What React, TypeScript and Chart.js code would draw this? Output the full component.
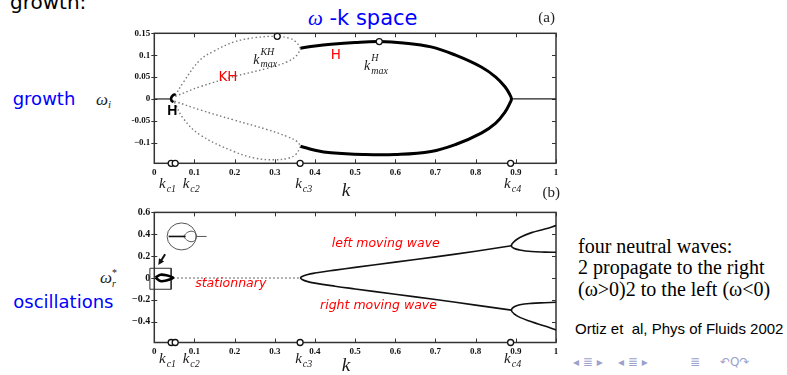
import React, { useEffect, useRef } from "react";
import { Chart, registerables } from "chart.js";

Chart.register(...registerables);

type Pt = [number, number];

const SERIF = "'Liberation Serif', 'DejaVu Serif', serif";
const SANS = "'DejaVu Sans', 'Liberation Sans', sans-serif";

// ---------- axes ----------
const xTickValues = [0, 0.1, 0.2, 0.3, 0.4, 0.5, 0.6, 0.7, 0.8, 0.9, 1];
const xTickLabels = ["0", "0.1", "0.2", "0.3", "0.4", "0.5", "0.6", "0.7", "0.8", "0.9", "1"];
const yTopTickValues = [-0.1, -0.05, 0, 0.05, 0.1, 0.15];
const yTopTickLabels = ["\u22120.1", "-0.05", "0", "0.05", "0.1", "0.15"];
const yBotTickValues = [-0.4, -0.2, 0, 0.2, 0.4, 0.6];
const yBotTickLabels = ["\u22120.4", "\u22120.2", "0", "0.2", "0.4", "0.6"];
const topYRange: Pt = [-0.147, 0.15];
const botYRange: Pt = [-0.59, 0.6];

// critical wavenumbers (markers on the k axis) and their labels
const criticalK = [0.042, 0.052, 0.363, 0.887];
const criticalNames = ["c1", "c2", "c3", "c4"];
const criticalLabelK = [0.033, 0.092, 0.372, 0.892];
const kTitleK = 0.477;

// ---------- (a) growth rate ----------
const topZeroLeft: Pt[] = [[0, 0], [0.042, 0]];
const topBracketH: Pt[] = [[0.053, 0.011], [0.046, 0.008], [0.042, 0.002], [0.043, -0.004], [0.048, -0.007]];
const khUpperOuter: Pt[] = [[0.052, 0.008], [0.073, 0.039], [0.114, 0.089], [0.15, 0.11], [0.198, 0.13], [0.25, 0.14], [0.306, 0.143], [0.335, 0.139], [0.352, 0.131], [0.364, 0.116]];
const khUpperInner: Pt[] = [[0.052, 0.006], [0.114, 0.028], [0.198, 0.051], [0.281, 0.07], [0.331, 0.085], [0.355, 0.1], [0.364, 0.115]];
const khLowerOuter: Pt[] = [[0.05, -0.007], [0.0725, -0.045], [0.114, -0.082], [0.198, -0.12], [0.25, -0.135], [0.3, -0.139], [0.335, -0.135], [0.352, -0.127], [0.364, -0.109]];
const khLowerInner: Pt[] = [[0.05, -0.005], [0.114, -0.025], [0.198, -0.048], [0.281, -0.07], [0.331, -0.086], [0.355, -0.097], [0.364, -0.107]];
const hUpper: Pt[] = [[0.364, 0.116], [0.4, 0.121], [0.44, 0.125], [0.5, 0.129], [0.56, 0.131], [0.62, 0.128], [0.689, 0.119], [0.75, 0.1], [0.814, 0.073], [0.85, 0.05], [0.873, 0.028], [0.885, 0.01], [0.889, 0]];
const hLower: Pt[] = [[0.889, 0], [0.885, -0.01], [0.873, -0.03], [0.85, -0.055], [0.814, -0.078], [0.75, -0.104], [0.689, -0.12], [0.6, -0.127], [0.52, -0.127], [0.44, -0.123], [0.4, -0.117], [0.364, -0.108]];
const topZeroRight: Pt[] = [[0.889, 0], [1, 0]];
const kMaxPoints: Pt[] = [[0.306, 0.143], [0.56, 0.131]];

// ---------- (b) oscillation frequency ----------
const stationaryBlob: Pt[] = [[0.003, 0.004], [0.015, 0.03], [0.03, 0.025], [0.047, 0.002], [0.03, -0.022], [0.015, -0.028], [0.003, 0.004]];
const stationaryDotted: Pt[] = [[0.047, 0], [0.364, 0]];
const travelUpper: Pt[] = [[0.364, 0], [0.368, 0.013], [0.38, 0.03], [0.4, 0.045], [0.45, 0.072], [0.5, 0.097], [0.6, 0.145], [0.7, 0.193], [0.8, 0.245], [0.889, 0.295]];
const travelLower: Pt[] = [[0.364, 0], [0.368, -0.013], [0.38, -0.031], [0.4, -0.047], [0.45, -0.075], [0.5, -0.1], [0.6, -0.149], [0.7, -0.197], [0.8, -0.248], [0.889, -0.294]];
const forkUpper: Pt[] = [[1, 0.479], [0.972, 0.448], [0.939, 0.415], [0.91, 0.37], [0.895, 0.33], [0.889, 0.296], [0.895, 0.272], [0.91, 0.256], [0.939, 0.242], [0.972, 0.237], [1, 0.235]];
const forkLower: Pt[] = [[1, -0.222], [0.972, -0.226], [0.939, -0.232], [0.91, -0.245], [0.895, -0.265], [0.889, -0.294], [0.895, -0.325], [0.91, -0.36], [0.939, -0.4], [0.972, -0.44], [1, -0.476]];
const insetBox: Pt[] = [[-0.011, 0.089], [0.042, 0.089], [0.042, -0.103], [-0.011, -0.103], [-0.011, 0.089]];
const insetCenter: Pt = [0.068, 0.38];
const insetArrow: Pt[] = [[0.027, 0.217], [0.01, 0.119]];

// ---------- helpers ----------
const pts = (a: Pt[]) => a.map(([x, y]) => ({ x, y }));

function line(data: Pt[], color: string, width: number, dash: number[] = [], tension = 0.4) {
  return {
    data: pts(data),
    showLine: true,
    borderColor: color,
    borderWidth: width,
    borderDash: dash,
    pointRadius: 0,
    tension,
    fill: false,
    clip: false as any,
  };
}

function markers(data: Pt[]) {
  return {
    data: pts(data),
    showLine: false,
    pointRadius: 3,
    pointStyle: "circle",
    pointBackgroundColor: "#fff",
    pointBorderColor: "#111",
    pointBorderWidth: 1.3,
    clip: false as any,
  };
}

function drawMath(ctx: CanvasRenderingContext2D, cx: number, by: number, base: string, sup: string, sub: string, size: number) {
  const bf = `italic ${size}px ${SERIF}`;
  const sz = Math.round(size * 0.68);
  const sf = `italic ${sz}px ${SERIF}`;
  ctx.font = bf;
  const bw = ctx.measureText(base).width;
  ctx.font = sf;
  const w2 = Math.max(sup ? ctx.measureText(sup).width : 0, sub ? ctx.measureText(sub).width : 0);
  const x0 = cx - (bw + 1 + w2) / 2;
  ctx.textAlign = "left";
  ctx.textBaseline = "alphabetic";
  ctx.fillStyle = "#1a1a1a";
  ctx.font = bf;
  ctx.fillText(base, x0, by);
  ctx.font = sf;
  if (sup) ctx.fillText(sup, x0 + bw + 1, by - size * 0.62);
  if (sub) ctx.fillText(sub, x0 + bw + 1, by + size * 0.25);
}

type TextItem = { k: number; w: number; text: string; font: string; color: string; align: CanvasTextAlign };
type MathItem = { k: number; w: number; base: string; sup: string; sub: string; size: number };
type DecorCfg = {
  yTicks: number[];
  tag: string;
  tagDx: number;
  tagDy: number;
  kcDy: number;
  kTitleDy: number;
  texts: TextItem[];
  math: MathItem[];
  inset: boolean;
};

function makeDecor(cfg: DecorCfg) {
  return {
    id: "decor",
    beforeDatasetsDraw(chart: any) {
      const { ctx, chartArea: a } = chart;
      const xs = chart.scales.x;
      const ys = chart.scales.y;
      ctx.save();
      ctx.strokeStyle = "#333";
      ctx.lineWidth = 1.5;
      ctx.strokeRect(a.left, a.top, a.right - a.left, a.bottom - a.top);
      ctx.lineWidth = 1;
      ctx.beginPath();
      for (const v of xTickValues) {
        const px = Math.round(xs.getPixelForValue(v)) + 0.5;
        ctx.moveTo(px, a.bottom);
        ctx.lineTo(px, a.bottom - 4);
        ctx.moveTo(px, a.top);
        ctx.lineTo(px, a.top + 4);
      }
      for (const v of cfg.yTicks) {
        const py = Math.round(ys.getPixelForValue(v)) + 0.5;
        ctx.moveTo(a.left - 3, py);
        ctx.lineTo(a.left + 3, py);
        ctx.moveTo(a.right, py);
        ctx.lineTo(a.right - 4, py);
      }
      ctx.stroke();
      ctx.restore();
    },
    afterDatasetsDraw(chart: any) {
      const { ctx, chartArea: a } = chart;
      const xs = chart.scales.x;
      const ys = chart.scales.y;
      ctx.save();
      // panel tag
      ctx.font = `15px ${SERIF}`;
      ctx.fillStyle = "#222";
      ctx.textAlign = "right";
      ctx.textBaseline = "alphabetic";
      ctx.fillText(cfg.tag, a.right + cfg.tagDx, a.top + cfg.tagDy);
      // axis title k
      ctx.font = `italic 19px ${SERIF}`;
      ctx.textAlign = "center";
      ctx.fillStyle = "#1a1a1a";
      ctx.fillText("k", xs.getPixelForValue(kTitleK), a.bottom + cfg.kTitleDy);
      // critical k labels
      criticalLabelK.forEach((k, i) => drawMath(ctx, xs.getPixelForValue(k), a.bottom + cfg.kcDy, "k", "", criticalNames[i], 15));
      // math annotations
      cfg.math.forEach((m) => drawMath(ctx, xs.getPixelForValue(m.k), ys.getPixelForValue(m.w), m.base, m.sup, m.sub, m.size));
      // text annotations
      cfg.texts.forEach((t) => {
        ctx.font = t.font;
        ctx.fillStyle = t.color;
        ctx.textAlign = t.align;
        ctx.textBaseline = "middle";
        ctx.fillText(t.text, xs.getPixelForValue(t.k), ys.getPixelForValue(t.w));
      });
      if (cfg.inset) {
        const cx = xs.getPixelForValue(insetCenter[0]);
        const cy = ys.getPixelForValue(insetCenter[1]);
        ctx.strokeStyle = "#555";
        ctx.lineWidth = 1;
        ctx.beginPath();
        ctx.ellipse(cx, cy, 14.5, 13.5, 0, 0, Math.PI * 2);
        ctx.stroke();
        ctx.beginPath();
        ctx.moveTo(cx + 14, cy);
        ctx.lineTo(cx + 25, cy);
        ctx.stroke();
        ctx.beginPath();
        ctx.moveTo(cx + 2, cy);
        ctx.bezierCurveTo(cx + 7, cy - 8, cx + 15, cy - 6, cx + 15, cy);
        ctx.bezierCurveTo(cx + 15, cy + 6, cx + 7, cy + 8, cx + 2, cy);
        ctx.stroke();
        ctx.strokeStyle = "#111";
        ctx.lineWidth = 1.6;
        ctx.beginPath();
        ctx.moveTo(cx - 13, cy);
        ctx.lineTo(cx + 4, cy);
        ctx.stroke();
        // arrow
        const ax = xs.getPixelForValue(insetArrow[0][0]);
        const ay = ys.getPixelForValue(insetArrow[0][1]);
        const bx = xs.getPixelForValue(insetArrow[1][0]);
        const by = ys.getPixelForValue(insetArrow[1][1]);
        const ang = Math.atan2(by - ay, bx - ax);
        ctx.lineWidth = 2;
        ctx.beginPath();
        ctx.moveTo(ax, ay);
        ctx.lineTo(bx - 4 * Math.cos(ang), by - 4 * Math.sin(ang));
        ctx.stroke();
        ctx.fillStyle = "#111";
        ctx.beginPath();
        ctx.moveTo(bx, by);
        ctx.lineTo(bx - 6 * Math.cos(ang) + 3 * Math.sin(ang), by - 6 * Math.sin(ang) - 3 * Math.cos(ang));
        ctx.lineTo(bx - 6 * Math.cos(ang) - 3 * Math.sin(ang), by - 6 * Math.sin(ang) + 3 * Math.cos(ang));
        ctx.closePath();
        ctx.fill();
      }
      ctx.restore();
    },
  };
}

function makeScales(yRange: Pt, yVals: number[], yLabels: string[], xHeight: number, xFont: number, yFont: number) {
  return {
    x: {
      type: "linear",
      min: 0,
      max: 1,
      grid: { display: false, drawTicks: false },
      border: { display: false },
      afterBuildTicks: (s: any) => {
        s.ticks = xTickValues.map((v) => ({ value: v }));
      },
      afterFit: (s: any) => {
        s.height = xHeight;
      },
      ticks: {
        autoSkip: false,
        maxRotation: 0,
        padding: 4,
        color: "#111",
        font: { family: SERIF, size: xFont, weight: "bold" },
        callback: (_v: any, i: number) => xTickLabels[i],
      },
    },
    y: {
      type: "linear",
      min: yRange[0],
      max: yRange[1],
      grid: { display: false, drawTicks: false },
      border: { display: false },
      afterBuildTicks: (s: any) => {
        s.ticks = yVals.map((v) => ({ value: v }));
      },
      afterFit: (s: any) => {
        s.width = 54.3;
      },
      ticks: {
        autoSkip: false,
        padding: 4,
        color: "#111",
        font: { family: SERIF, size: yFont, weight: "bold" },
        callback: (_v: any, i: number) => yLabels[i],
      },
    },
  };
}

const DOT = [1.5, 2.5];
const GRAY = "#7a7a7a";

function topConfig(): any {
  const axisMarks: Pt[] = criticalK.map((k) => [k, topYRange[0]] as Pt);
  return {
    type: "scatter",
    data: {
      datasets: [
        markers(kMaxPoints.concat(axisMarks)),
        line(topBracketH, "#000", 2.6),
        line(hUpper.concat(hLower.slice(1)), "#000", 3),
        line(topZeroLeft, "#222", 1.2, [], 0),
        line(topZeroRight, "#222", 1.2, [], 0),
        line(khUpperOuter, GRAY, 1.4, DOT),
        line(khUpperInner, GRAY, 1.4, DOT),
        line(khLowerOuter, GRAY, 1.4, DOT),
        line(khLowerInner, GRAY, 1.4, DOT),
      ],
    },
    options: {
      responsive: false,
      animation: false,
      devicePixelRatio: 1,
      events: [],
      layout: { padding: { left: 0, right: 14, top: 23.3, bottom: 0 } },
      plugins: { legend: { display: false }, tooltip: { enabled: false } },
      scales: makeScales(topYRange, yTopTickValues, yTopTickLabels, 41.7, 9, 9),
    },
    plugins: [
      makeDecor({
        yTicks: yTopTickValues,
        tag: "(a)",
        tagDx: -1,
        tagDy: -11.3,
        kcDy: 24.7,
        kTitleDy: 32.7,
        texts: [
          { k: 0.1835, w: 0.048, text: "KH", font: `13.5px ${SANS}`, color: "#ff0000", align: "center" },
          { k: 0.452, w: 0.1, text: "H", font: `13.5px ${SANS}`, color: "#ff0000", align: "center" },
          { k: 0.045, w: -0.0275, text: "H", font: `bold 14px 'Liberation Sans', sans-serif`, color: "#000", align: "center" },
        ],
        math: [
          { k: 0.276, w: 0.08, base: "k", sup: "KH", sub: "max", size: 14 },
          { k: 0.552, w: 0.066, base: "k", sup: "H", sub: "max", size: 14 },
        ],
        inset: false,
      }),
    ],
  };
}

function bottomConfig(): any {
  const axisMarks: Pt[] = criticalK.map((k) => [k, botYRange[0]] as Pt);
  const travel = travelUpper.slice().reverse().concat(travelLower.slice(1));
  return {
    type: "scatter",
    data: {
      datasets: [
        markers(axisMarks),
        line(stationaryBlob, "#000", 2.6, [], 0.3),
        line(travel, "#111", 1.6),
        line(forkUpper, "#111", 1.6),
        line(forkLower, "#111", 1.6),
        line(stationaryDotted, GRAY, 1.4, DOT, 0),
        line(insetBox, "#333", 1, [], 0),
      ],
    },
    options: {
      responsive: false,
      animation: false,
      devicePixelRatio: 1,
      events: [],
      layout: { padding: { left: 0, right: 14, top: 32.4, bottom: 0 } },
      plugins: { legend: { display: false }, tooltip: { enabled: false } },
      scales: makeScales(botYRange, yBotTickValues, yBotTickLabels, 32.5, 9, 10),
    },
    plugins: [
      makeDecor({
        yTicks: yBotTickValues,
        tag: "(b)",
        tagDx: 4,
        tagDy: -15.4,
        kcDy: 20.5,
        kTitleDy: 28.5,
        texts: [
          { k: 0.442, w: 0.311, text: "left moving wave", font: `italic 12.5px ${SANS}`, color: "#ff0000", align: "left" },
          { k: 0.4126, w: -0.256, text: "right moving wave", font: `italic 12.5px ${SANS}`, color: "#ff0000", align: "left" },
          { k: 0.1017, w: -0.055, text: "stationnary", font: `italic 12.5px ${SANS}`, color: "#ff0000", align: "left" },
        ],
        math: [],
        inset: true,
      }),
    ],
  };
}

function Panel({ make, left, top }: { make: () => any; left: number; top: number }) {
  const ref = useRef<HTMLCanvasElement>(null);
  useEffect(() => {
    const chart = new Chart(ref.current as HTMLCanvasElement, make());
    return () => chart.destroy();
  }, []);
  return (
    <canvas
      ref={ref}
      width={470}
      height={195}
      style={{ position: "absolute", left, top, width: 470, height: 195 }}
    />
  );
}

function Txt({ x, base, size, family, color = "#000", style = {}, children }: any) {
  return (
    <div
      style={{
        position: "absolute",
        left: x,
        top: base - 0.84 * size,
        fontSize: size,
        lineHeight: `${size}px`,
        fontFamily: family,
        color,
        whiteSpace: "pre",
        ...style,
      }}
    >
      {children}
    </div>
  );
}

const BLUE = "#0000ff";
const NAV = "#9aa2cc";

export default function App() {
  return (
    <div
      style={{
        position: "absolute",
        left: 0,
        top: 0,
        width: 787,
        height: 375,
        overflow: "hidden",
        background: "#fff",
      }}
    >
      <Txt x={10} base={8.3} size={20} family={SANS}>growth:</Txt>
      <Txt x={308} base={25.5} size={21} family={SANS} color={BLUE}>
        <span style={{ fontFamily: SERIF, fontStyle: "italic" }}>ω</span>{" -k space"}
      </Txt>
      <Txt x={12.7} base={105} size={18} family={SANS} color={BLUE}>growth</Txt>
      <Txt x={13.3} base={308.3} size={18} family={SANS} color={BLUE}>oscillations</Txt>
      <Txt x={96} base={105} size={17} family={SERIF} color="#222" style={{ fontStyle: "italic" }}>
        ω<span style={{ fontSize: 11, position: "relative", top: 3 }}>i</span>
      </Txt>
      <Txt x={100} base={283} size={17} family={SERIF} color="#222" style={{ fontStyle: "italic" }}>ω</Txt>
      <Txt x={112} base={276} size={10} family={SERIF} color="#222">*</Txt>
      <Txt x={112} base={287} size={10} family={SERIF} color="#222" style={{ fontStyle: "italic" }}>r</Txt>

      <Panel make={topConfig} left={100} top={10} />
      <Panel make={bottomConfig} left={100} top={180} />

      <Txt x={578} base={253} size={20} family={SERIF}>four neutral waves:</Txt>
      <Txt x={578} base={274} size={20} family={SERIF}>2 propagate to the right</Txt>
      <Txt x={578} base={296} size={20} family={SERIF}>(ω&gt;0)2 to the left (ω&lt;0)</Txt>
      <Txt x={575} base={333.5} size={15} family={"'Liberation Sans', Arial, sans-serif"}>{"Ortiz et  al, Phys of Fluids 2002"}</Txt>

      <Txt x={573} base={366} size={12} family={SANS} color={NAV}>◂ ≣ ▸</Txt>
      <Txt x={618} base={366} size={12} family={SANS} color={NAV}>◂ ≣ ▸</Txt>
      <Txt x={690} base={366} size={12} family={SANS} color={NAV}>≣</Txt>
      <Txt x={720} base={366} size={12} family={SANS} color={NAV}>↶Q↷</Txt>
    </div>
  );
}
